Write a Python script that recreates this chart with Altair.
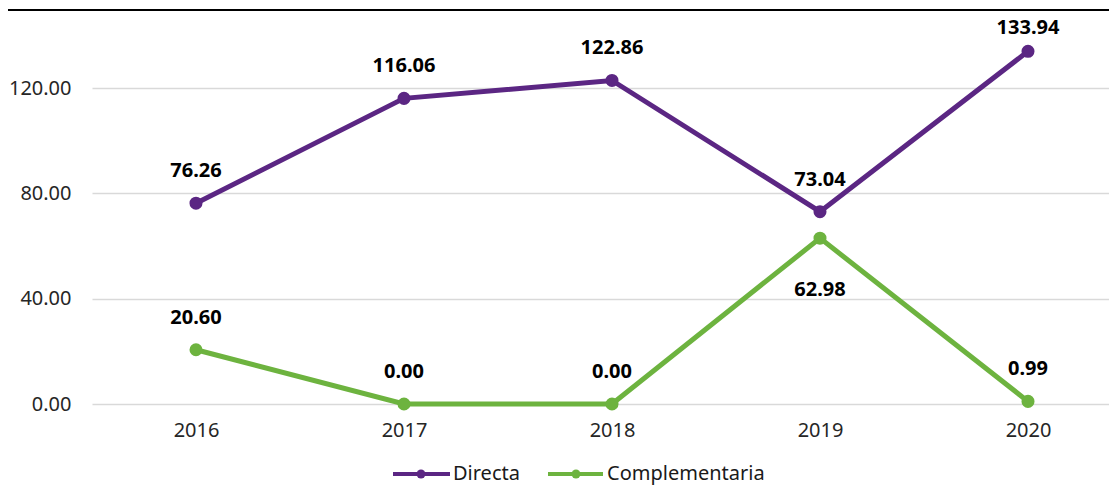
import altair as alt
import pandas as pd

years = [2016, 2017, 2018, 2019, 2020]
directa = [76.26, 116.06, 122.86, 73.04, 133.94]
complementaria = [20.60, 0.00, 0.00, 62.98, 0.99]
series_names = ["Directa", "Complementaria"]
series_colors = ["#5b2683", "#6db33f"]
y_ticks = [0, 40, 80, 120]

rows = []
for s, vals in zip(series_names, [directa, complementaria]):
    for yr, v in zip(years, vals):
        rows.append({"year": yr, "serie": s, "value": v})
df = pd.DataFrame(rows)

W = 1017
H = 392
PX_PER_YEAR = 208
PX_PER_UNIT = 316 / 120
x_dom = [2015.5, 2015.5 + W / PX_PER_YEAR]
y_dom = [0, H / PX_PER_UNIT]
FONT = "Noto Sans"

x = alt.X("year:Q",
          scale=alt.Scale(domain=x_dom, nice=False, zero=False),
          axis=alt.Axis(values=years, format="d", grid=False, domain=False, ticks=False,
                        labelFontSize=20, labelPadding=16, labelColor="#262626",
                        labelFlush=False, title=None))
y = alt.Y("value:Q",
          scale=alt.Scale(domain=y_dom, nice=False),
          axis=alt.Axis(values=y_ticks, format=".2f", grid=True, gridColor="#d9d9d9",
                        gridWidth=1.5, domain=False, ticks=False, labelFontSize=20,
                        labelPadding=21, labelColor="#262626", title=None))
color = alt.Color("serie:N", scale=alt.Scale(domain=series_names, range=series_colors),
                  legend=None)

base = alt.Chart(df)
lines = base.mark_line(strokeWidth=5).encode(x=x, y=y, color=color)
points = base.mark_circle(size=170, opacity=1).encode(x=x, y=y, color=color)

txt = dict(fontSize=20, fontWeight="bold", color="black", baseline="middle", font=FONT)
lab_text = alt.Text("value:Q", format=".2f")
labels_above = base.mark_text(dy=-32, **txt).encode(x=x, y=y, text=lab_text).transform_filter(
    "!((datum.serie == 'Complementaria' && datum.year == 2019) || (datum.serie == 'Directa' && datum.year == 2020))")
label_top = base.mark_text(dy=-23, **txt).encode(x=x, y=y, text=lab_text).transform_filter(
    "datum.serie == 'Directa' && datum.year == 2020")
label_below = base.mark_text(dy=52, **txt).encode(x=x, y=y, text=lab_text).transform_filter(
    "datum.serie == 'Complementaria' && datum.year == 2019")

one = alt.Chart(pd.DataFrame({"a": [0]}))
top_rule = one.mark_rule(color="black", strokeWidth=2).encode(
    x=alt.value(-84), x2=alt.value(W), y=alt.value(-2))

LEG_Y = 462
legend_items = [
    (series_names[0], series_colors[0], 301, 358, 329, 361),
    (series_names[1], series_colors[1], 456, 511, 484, 515),
]
legend_layers = []
for name, col, x1, x2, xp, xt in legend_items:
    legend_layers.append(one.mark_rule(color=col, strokeWidth=4).encode(
        x=alt.value(x1), x2=alt.value(x2), y=alt.value(LEG_Y)))
    legend_layers.append(one.mark_circle(color=col, size=80, opacity=1).encode(
        x=alt.value(xp), y=alt.value(LEG_Y)))
    legend_layers.append(one.mark_text(align="left", baseline="middle", fontSize=20,
                                       color="#1a1a1a", font=FONT).encode(
        x=alt.value(xt), y=alt.value(LEG_Y), text=alt.value(name)))

chart = alt.layer(lines, points, labels_above, label_top, label_below, top_rule,
                  *legend_layers).properties(
    width=W, height=H,
    padding={"left": 84, "top": 4, "right": 0, "bottom": 81},
    autosize=alt.AutoSizeParams(type="none"),
).configure(font=FONT).configure_view(strokeWidth=0, stroke="transparent").configure_axis(labelFont=FONT)

chart.save("out.html", embed_options={"renderer": "svg", "actions": False})
